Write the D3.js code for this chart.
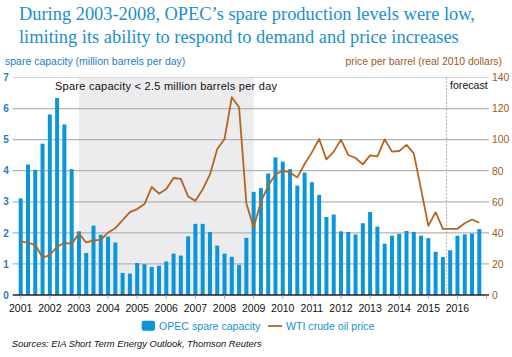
<!DOCTYPE html>
<html>
<head>
<meta charset="utf-8">
<script src="https://cdn.jsdelivr.net/npm/d3@7"></script>
<style>
  html, body { margin: 0; padding: 0; background: #fff; }
  svg { display: block; }
</style>
</head>
<body>
<svg id="chart" width="512" height="357"></svg>
<script>
// ---- data (quarterly, 2001Q1 .. 2016Q4) ----
const years = ["2001","2002","2003","2004","2005","2006","2007","2008","2009","2010","2011","2012","2013","2014","2015","2016"];
const spareCapacity = [
  3.11, 4.20, 4.03, 4.87,  5.81, 6.34, 5.49, 4.05,
  2.05, 1.35, 2.23, 1.94,  1.88, 1.69, 0.71, 0.69,
  1.03, 0.99, 0.90, 0.94,  1.08, 1.33, 1.27, 1.89,
  2.29, 2.29, 2.03, 1.59,  1.33, 1.23, 0.97, 1.84,
  3.32, 3.44, 3.91, 4.43,  4.29, 4.05, 3.52, 3.94,
  3.63, 3.22, 2.51, 2.59,  2.05, 2.03, 1.95, 2.31,
  2.67, 2.20, 1.65, 1.91,  1.97, 2.06, 2.03, 1.91,
  1.83, 1.39, 1.22, 1.44,  1.91, 1.95, 1.98, 2.12
];
const wtiPrice = [
  34.6, 33.5, 32.3, 24.1,  25.6, 31.2, 33.5, 32.9,
  39.6, 33.8, 35.1, 35.5,  40.2, 43.0, 48.2, 53.3,
  55.3, 58.5, 69.5, 65.2,  68.2, 75.3, 74.8, 63.4,
  60.6, 68.0, 77.6, 94.0,  100.4, 127.3, 120.9, 59.1,
  43.3, 60.0, 70.3, 77.8,  80.0, 78.9, 75.7, 84.3,
  91.8, 100.4, 87.3, 92.3,  100.0, 90.1, 88.2, 84.1,
  89.9, 89.2, 100.2, 92.3,  92.7, 96.6, 91.2, 68.0,
  44.5, 53.3, 42.6, 42.6,  42.6, 46.2, 48.6, 46.5
];
const leftTicks = [0,1,2,3,4,5,6,7];
const rightTicks = [0,20,40,60,80,100,120,140];
const titleLines = [
  "During 2003-2008, OPEC\u2019s spare production levels were low,",
  "limiting its ability to respond to demand and price increases"
];
const shadeStartYear = "2003", shadeEndYear = "2009";
const forecastStartIndex = 59; // 2015Q4

// ---- layout ----
const svg = d3.select("#chart");
const gridLeft = 12.7, gridRight = 489;
const x = d3.scaleLinear().domain([0, 63]).range([20.7, 479.3]);
const yL = d3.scaleLinear().domain([0, 7]).range([295, 77.5]);
const yR = d3.scaleLinear().domain([0, 140]).range([295, 77.5]);
const yearIndex = y => years.indexOf(y) * 4;

const blue = "#0a96d8", brown = "#b5651d", titleBlue = "#1a8fcf", axisBlue = "#1f7dbf", axisBrown = "#9c5a1e";
const sans = "Liberation Sans, Arial, sans-serif";

// title
svg.append("g").selectAll("text").data(titleLines).join("text")
  .attr("x", 19).attr("y", (d, i) => 20 + i * 23.3)
  .attr("font-family", "Liberation Serif, Times New Roman, serif")
  .attr("font-size", 18.4).attr("fill", titleBlue)
  .text(d => d);

// axis titles
svg.append("text").attr("x", 5).attr("y", 65)
  .attr("font-family", sans).attr("font-size", 10.5)
  .attr("fill", axisBlue).text("spare capacity (million barrels per day)");
svg.append("text").attr("x", 502).attr("y", 65).attr("text-anchor", "end")
  .attr("font-family", sans).attr("font-size", 10.4)
  .attr("fill", axisBrown).text("price per barrel (real 2010 dollars)");

// shaded period
svg.append("rect")
  .attr("x", x(yearIndex(shadeStartYear))).attr("y", yL(7))
  .attr("width", x(yearIndex(shadeEndYear)) - x(yearIndex(shadeStartYear)))
  .attr("height", yL(0) - yL(7))
  .attr("fill", "#ecebed");

// gridlines
svg.append("g").selectAll("line").data(leftTicks.filter(d => d > 0)).join("line")
  .attr("x1", gridLeft).attr("x2", gridRight)
  .attr("y1", d => yL(d)).attr("y2", d => yL(d))
  .attr("stroke", d => d === 7 ? "#d6d6d6" : "#b4b4b4").attr("stroke-width", 1.2);

// left axis labels
const gl = svg.append("g").attr("transform", `translate(${gridLeft},0)`)
  .call(d3.axisLeft(yL).tickValues(leftTicks).tickSize(0).tickPadding(4).tickFormat(d3.format("d")));
gl.select(".domain").remove();
gl.selectAll("text").attr("font-family", sans)
  .attr("font-size", 10).attr("font-weight", "bold").attr("fill", axisBlue);

// right axis labels
const gr = svg.append("g").attr("transform", `translate(${gridRight},0)`)
  .call(d3.axisRight(yR).tickValues(rightTicks).tickSize(0).tickPadding(3).tickFormat(d3.format("d")));
gr.select(".domain").remove();
gr.selectAll("text").attr("font-family", sans)
  .attr("font-size", 10.4).attr("fill", axisBrown);

// annotation text
svg.append("text").attr("x", 55).attr("y", 90)
  .attr("font-family", sans).attr("font-size", 11)
  .attr("letter-spacing", 0.25).attr("fill", "#111")
  .text("Spare capacity < 2.5 million barrels per day");

// forecast divider
const fx = (x(forecastStartIndex - 1) + x(forecastStartIndex)) / 2;
svg.append("line").attr("x1", fx).attr("x2", fx).attr("y1", yL(7)).attr("y2", yL(0))
  .attr("stroke", "#999").attr("stroke-width", 0.8).attr("stroke-dasharray", "2,1.5");
svg.append("text").attr("x", fx + 3.5).attr("y", 89)
  .attr("font-family", sans).attr("font-size", 10.6)
  .attr("fill", "#111").text("forecast");

// bars
const barW = 4;
svg.append("g").selectAll("rect").data(spareCapacity).join("rect")
  .attr("x", (d, i) => x(i) - barW / 2).attr("width", barW)
  .attr("y", d => yL(d)).attr("height", d => yL(0) - yL(d))
  .attr("fill", blue);

// price line
svg.append("path").datum(wtiPrice)
  .attr("d", d3.line().x((d, i) => x(i)).y(d => yR(d)))
  .attr("fill", "none").attr("stroke", brown).attr("stroke-width", 1.8)
  .attr("stroke-linejoin", "round");

// baseline
svg.append("line").attr("x1", gridLeft).attr("x2", gridRight)
  .attr("y1", yL(0)).attr("y2", yL(0)).attr("stroke", "#222").attr("stroke-width", 1.3);

// x axis
const xTickIdx = d3.range(0, 65, 4);
svg.append("g").selectAll("line").data(xTickIdx).join("line")
  .attr("x1", d => x(d)).attr("x2", d => x(d))
  .attr("y1", yL(0)).attr("y2", yL(0) + 4)
  .attr("stroke", "#999").attr("stroke-width", 0.8);
svg.append("g").selectAll("text").data(years).join("text")
  .attr("x", (d, i) => x(i * 4)).attr("y", 312).attr("text-anchor", "middle")
  .attr("font-family", sans).attr("font-size", 10.5)
  .attr("fill", "#111").text(d => d);

// legend
const lg = svg.append("g");
lg.append("rect").attr("x", 141.7).attr("y", 320.7).attr("width", 13.3).attr("height", 10)
  .attr("rx", 2).attr("fill", blue);
lg.append("text").attr("x", 159).attr("y", 329.5)
  .attr("font-family", sans).attr("font-size", 10.6)
  .attr("fill", "#1a8fcf").text("OPEC spare capacity");
lg.append("line").attr("x1", 268).attr("x2", 282).attr("y1", 326).attr("y2", 326)
  .attr("stroke", brown).attr("stroke-width", 1.8);
lg.append("text").attr("x", 286).attr("y", 329.5)
  .attr("font-family", sans).attr("font-size", 10.6)
  .attr("fill", "#1a8fcf").text("WTI crude oil price");

// source
svg.append("text").attr("x", 11.7).attr("y", 347)
  .attr("font-family", sans).attr("font-size", 9.4)
  .attr("font-style", "italic").attr("fill", "#111")
  .text("Sources: EIA Short Term Energy Outlook, Thomson Reuters");
</script>
</body>
</html>
